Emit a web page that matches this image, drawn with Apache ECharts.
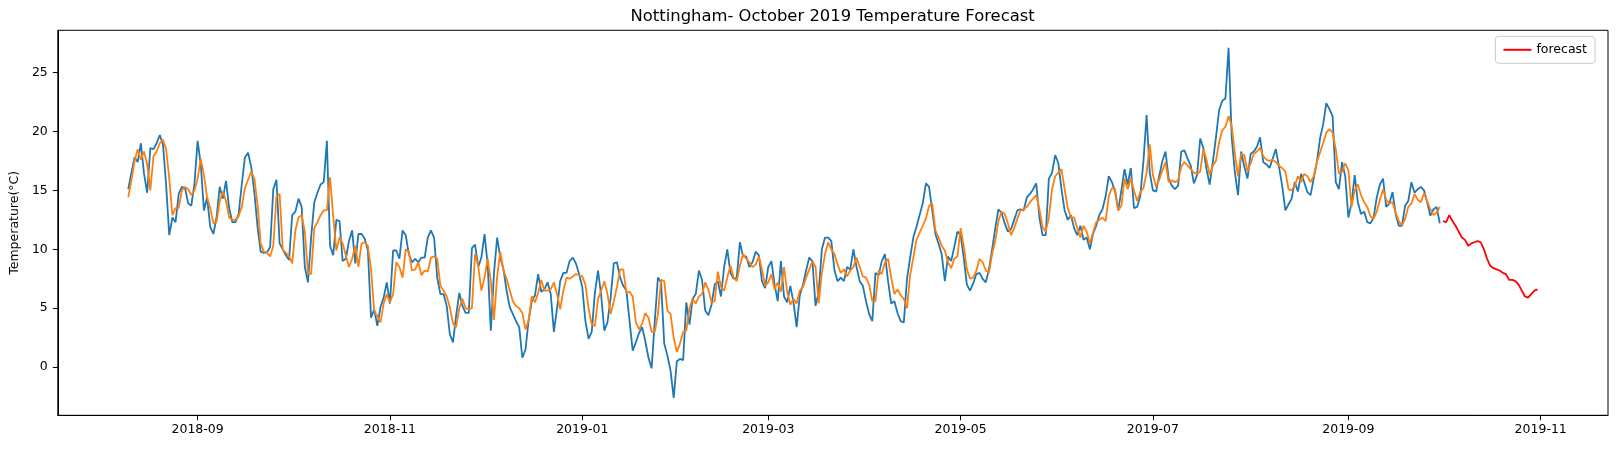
<!DOCTYPE html>
<html><head><meta charset="utf-8">
<script src="https://cdn.jsdelivr.net/npm/echarts@6/dist/echarts.min.js"></script>
<style>html,body{margin:0;padding:0;background:#fff}#c{width:1617px;height:449px}</style>
</head><body><div id="c"></div>
<script>
const actualStart = '2018-08-10';
const actual = [15.1,16.5,17.8,17.4,19.0,16.4,14.8,18.6,18.5,19.0,
19.7,18.9,15.5,11.2,12.7,12.3,14.7,15.3,15.2,13.9,
13.7,15.6,19.2,17.2,13.3,14.4,11.9,11.3,12.7,15.3,
14.3,15.8,13.5,12.3,12.3,13.0,15.5,17.8,18.2,17.0,
14.8,11.9,9.8,9.7,9.75,10.2,15.1,15.9,10.5,10.0,
9.5,9.1,12.9,13.2,14.3,13.6,8.5,7.2,11.0,14.0,
14.8,15.5,15.7,19.2,10.3,9.5,12.5,12.4,9.0,9.2,
10.7,11.6,8.8,11.3,11.3,10.9,9.9,4.2,4.9,3.5,
5.1,5.9,7.2,
5.4,9.9,9.9,9.2,11.6,11.2,9.6,8.9,9.2,8.9,
9.3,9.3,11.0,11.6,11.0,7.6,6.2,6.2,5.2,2.8,
2.1,4.4,6.3,5.2,4.6,4.6,10.1,10.4,8.5,9.3,
11.3,8.7,3.1,8.0,11.0,9.3,8.3,6.5,5.1,4.5,
3.9,3.4,0.8,1.5,
4.0,5.6,6.1,7.9,6.4,6.6,7.2,6.2,3.0,5.0,
7.3,8.0,8.0,9.0,9.3,8.8,7.9,6.8,3.9,2.4,
3.0,6.3,8.2,6.1,3.1,3.8,5.9,8.8,8.9,7.6,
6.9,6.5,3.9,1.4,2.1,2.9,3.4,2.2,0.8,-0.1,
3.9,7.6,7.2,2.0,
1.0,-0.3,-2.6,0.5,0.7,0.6,5.5,3.6,5.8,6.2,
8.2,7.4,4.8,4.4,5.3,7.0,7.3,6.0,8.5,10.0,
8.0,7.5,7.6,10.6,9.4,9.4,8.5,8.9,9.8,9.5,
7.3,6.7,8.5,9.0,7.0,5.6,9.0,6.0,5.5,6.9,
5.5,3.4,6.1,7.0,
8.2,9.3,9.0,5.2,6.4,10.0,11.0,11.0,10.7,8.2,
7.3,7.6,7.3,8.5,8.3,10.0,8.5,7.3,6.9,5.6,
4.5,3.9,8.0,7.8,9.0,9.6,7.3,5.4,5.6,4.6,
3.9,3.8,7.5,9.3,11.0,11.9,12.9,13.9,15.6,15.3,
13.3,11.3,10.5,
9.6,7.3,9.4,9.0,10.2,11.5,11.2,9.3,7.0,6.5,
7.1,7.9,8.0,7.5,7.2,8.3,10.0,11.8,13.4,13.1,
12.2,11.5,11.7,12.5,13.3,13.4,13.3,14.4,14.7,15.1,
15.6,12.7,11.2,11.2,16.0,16.5,18.0,17.3,15.1,13.3,
12.5,12.9,11.8,11.2,
12.0,10.8,11.0,10.0,11.3,12.0,12.9,13.4,14.5,16.2,
15.7,14.9,13.3,15.0,16.8,15.5,16.9,13.5,13.6,14.5,
17.5,21.4,16.5,15.0,14.9,16.2,17.5,18.3,16.0,15.4,
15.1,15.4,18.3,18.4,17.7,17.1,15.6,16.3,19.4,18.6,
16.8,15.5,17.4,19.5,
21.8,22.6,22.8,27.1,19.5,16.5,14.6,18.3,17.0,16.0,
18.1,18.3,18.7,19.5,17.4,17.2,16.9,17.7,18.5,17.0,
15.4,13.3,13.8,14.3,15.7,14.9,16.4,15.7,14.85,14.6,
16.0,17.4,19.4,20.6,22.4,21.9,21.3,15.7,15.1,17.4,
16.2,12.7,13.9,16.3,
14.0,13.0,13.2,12.3,12.2,12.7,14.4,15.5,16.0,13.6,
13.9,14.85,13.0,12.0,12.0,13.7,14.1,15.7,14.8,15.1,
15.3,15.0,14.0,12.85,13.4,13.6,12.2];

const fitted = [14.4,15.9,17.5,18.5,17.6,18.3,17.2,15.0,17.9,18.3,
19.0,19.3,18.5,16.0,12.9,13.5,13.5,15.0,15.3,15.1,
14.6,15.0,16.0,17.7,16.3,14.4,13.5,12.2,12.3,14.1,
14.9,14.1,12.7,12.5,12.5,12.8,13.6,15.2,15.9,16.6,
16.0,13.8,10.5,9.8,9.7,9.4,10.3,14.5,14.7,10.0,
9.7,9.4,8.8,11.6,12.7,12.9,11.5,8.0,7.9,11.8,
12.3,12.9,13.3,13.3,16.1,12.8,9.9,11.0,10.5,9.5,
8.5,9.2,10.3,8.5,10.5,10.6,10.3,8.3,4.8,4.3,
3.8,5.4,6.2,
5.5,6.2,8.9,8.5,7.6,10.0,9.8,8.2,8.3,8.9,
7.8,8.2,8.1,9.3,9.4,9.2,6.9,6.5,6.0,5.1,
3.7,3.4,5.0,5.8,5.0,4.9,5.0,9.6,8.6,6.5,
7.6,9.2,7.3,4.0,7.7,9.8,8.2,7.5,6.5,5.6,
5.2,5.0,4.6,3.2,
4.0,6.0,5.5,6.3,7.4,6.5,6.5,6.6,7.2,6.2,
4.9,6.5,7.6,7.5,7.7,7.9,7.8,7.7,7.0,5.0,
3.6,3.5,5.8,6.5,7.3,6.2,4.5,5.6,6.8,8.3,
8.3,6.3,6.4,6.0,3.8,3.2,3.7,4.6,4.2,3.0,
3.0,4.5,7.4,7.3,
4.8,4.5,2.5,1.3,2.0,3.0,3.1,5.0,5.8,5.4,
6.0,6.2,7.2,6.6,5.5,5.6,8.1,6.8,6.5,7.6,
8.6,7.6,7.3,8.6,9.6,9.2,8.9,8.5,8.7,9.4,
8.3,6.9,7.2,7.9,6.6,7.2,6.4,8.5,6.4,5.3,
5.8,5.4,6.5,6.8,
7.6,8.3,9.0,8.5,5.4,8.0,9.6,10.6,10.0,9.6,
8.7,8.0,8.3,7.7,8.2,8.5,9.3,8.5,7.7,7.6,
7.0,5.6,5.6,8.2,7.9,8.9,9.2,7.6,6.2,6.6,
6.1,5.8,5.0,7.8,9.3,10.8,11.4,12.0,12.6,13.7,
13.9,11.6,11.0,
10.3,9.9,8.9,8.4,9.2,9.4,11.8,10.3,8.3,7.5,
7.6,8.2,9.2,8.9,8.2,8.0,9.6,10.7,12.4,13.2,
13.0,12.2,11.2,11.8,12.6,13.3,13.4,13.6,14.0,14.3,
14.6,13.4,11.9,11.5,12.7,15.1,16.2,16.5,16.8,15.1,
13.5,12.7,12.7,11.8,
11.0,12.0,11.5,10.5,11.4,12.3,12.5,12.7,12.4,14.5,
15.2,15.1,13.3,13.7,16.0,15.1,16.0,15.0,14.1,14.85,
15.2,16.5,18.9,16.3,15.3,15.9,16.7,17.4,15.7,15.85,
15.7,15.85,17.0,17.4,17.1,16.8,16.5,16.4,16.6,18.5,
17.6,16.3,17.1,17.5,
19.1,20.1,20.4,21.3,20.5,18.1,16.2,18.1,18.0,16.6,
17.3,18.1,18.3,18.6,17.9,17.6,17.5,17.6,17.4,17.1,
16.9,16.6,15.1,15.0,15.4,16.2,15.7,16.4,16.2,15.7,
16.2,17.4,18.2,19.0,19.9,20.2,19.9,18.5,16.4,16.6,
17.3,16.7,13.6,15.0,
15.5,14.6,14.0,13.6,12.8,12.6,13.2,14.2,15.1,14.2,
13.9,14.0,13.1,12.4,12.0,12.6,13.6,13.9,14.7,14.2,
14.0,14.75,14.1,13.4,12.9,13.1,13.6];

const forecastStart = '2019-10-01';
const forecast = [12.4,12.3,12.9,12.4,12.0,11.5,11.0,10.8,10.3,10.5,
10.6,10.7,10.6,10.0,9.2,8.6,8.4,8.3,8.2,8.0,
7.9,7.4,7.4,7.3,7.0,6.5,6.0,5.9,6.2,6.5,6.6];

const xTickMonths = ['2018-09','2018-11','2019-01','2019-03','2019-05','2019-07','2019-09','2019-11'];
const yTicks = [0, 5, 10, 15, 20, 25];

function dayTs(s, i) {
  const p = s.split('-').map(Number);
  return Date.UTC(p[0], p[1] - 1, p[2] + i);
}
const actualData = actual.map((v, i) => [dayTs(actualStart, i), v]);
const fittedData = fitted.map((v, i) => [dayTs(actualStart, i), v]);
const forecastData = forecast.map((v, i) => [dayTs(forecastStart, i), v]);
const xTickVals = xTickMonths.map(m => dayTs(m + '-01', 0));

const allX = actualData.concat(forecastData).map(d => d[0]);
const allY = actual.concat(fitted, forecast);
const x0 = Math.min(...allX), x1 = Math.max(...allX);
const y0 = Math.min(...allY), y1 = Math.max(...allY);
const xm = (x1 - x0) * 0.05, ym = (y1 - y0) * 0.05;

const FONT = 'DejaVu Sans';
const chart = echarts.init(document.getElementById('c'), null, {renderer: 'canvas'});
const gridLeft = 57.3, gridRight = 9, gridTop = 30.3, gridBottom = 33.7;
chart.setOption({
  animation: false,
  backgroundColor: '#fff',
  title: {
    text: 'Nottingham- October 2019 Temperature Forecast',
    left: gridLeft + (1617 - gridLeft - gridRight) / 2,
    textAlign: 'center',
    top: 9,
    padding: 0,
    textStyle: {fontFamily: FONT, fontSize: 16.4, fontWeight: 'normal', color: '#000'}
  },
  legend: {
    data: ['forecast'],
    right: gridRight + 13,
    top: gridTop + 6,
    orient: 'vertical',
    icon: 'rect',
    itemWidth: 28,
    itemHeight: 2,
    itemGap: 8,
    padding: [7, 8, 7, 8],
    borderColor: '#cccccc',
    borderWidth: 1,
    borderRadius: 3,
    backgroundColor: 'rgba(255,255,255,0.8)',
    textStyle: {fontFamily: FONT, fontSize: 12.5, color: '#000'}
  },
  grid: {
    left: gridLeft, right: gridRight, top: gridTop, bottom: gridBottom,
    show: true, borderColor: '#000', borderWidth: 1, containLabel: false
  },
  xAxis: {
    type: 'value',
    min: x0 - xm, max: x1 + xm,
    axisLine: {show: true, onZero: false, lineStyle: {color: '#000', width: 1}},
    splitLine: {show: false},
    axisTick: {show: true, length: 5, customValues: xTickVals, lineStyle: {color: '#000', width: 1}},
    axisLabel: {
      customValues: xTickVals, margin: 8, color: '#000', fontFamily: FONT, fontSize: 12.5,
      formatter: v => { const d = new Date(v); return d.getUTCFullYear() + '-' + String(d.getUTCMonth() + 1).padStart(2, '0'); }
    }
  },
  yAxis: {
    type: 'value',
    min: y0 - ym, max: y1 + ym,
    name: 'Temperature(°C)',
    nameLocation: 'middle',
    nameGap: 36,
    nameRotate: 90,
    nameTextStyle: {fontFamily: FONT, fontSize: 12.5, color: '#000'},
    axisLine: {show: true, onZero: false, lineStyle: {color: '#000', width: 1}},
    splitLine: {show: false},
    axisTick: {show: true, length: 5, customValues: yTicks, lineStyle: {color: '#000', width: 1}},
    axisLabel: {customValues: yTicks, margin: 10, color: '#000', fontFamily: FONT, fontSize: 12.5}
  },
  series: [
    {name: 'actual', type: 'line', data: actualData, showSymbol: false, symbol: 'none',
     lineStyle: {color: '#1f77b4', width: 1.8}, itemStyle: {color: '#1f77b4'}},
    {name: 'fitted', type: 'line', data: fittedData, showSymbol: false, symbol: 'none',
     lineStyle: {color: '#ff7f0e', width: 1.8}, itemStyle: {color: '#ff7f0e'}},
    {name: 'forecast', type: 'line', data: forecastData, showSymbol: false, symbol: 'none',
     lineStyle: {color: '#ff0000', width: 1.8}, itemStyle: {color: '#ff0000'}}
  ]
});
</script>
</body></html>
